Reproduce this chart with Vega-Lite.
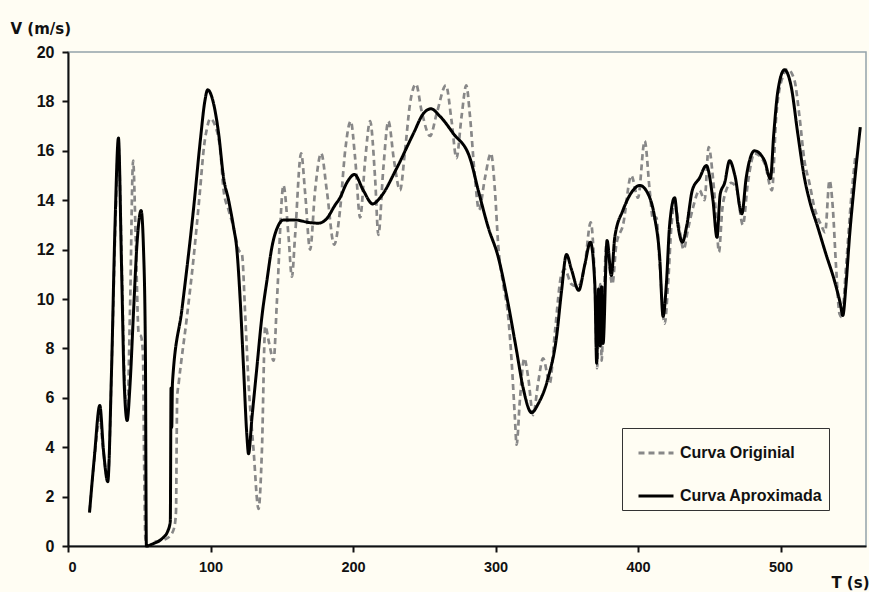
{
  "$schema": "https://vega.github.io/schema/vega-lite/v6.json",
  "width": 798,
  "height": 494,
  "autosize": {"type": "none"},
  "padding": {"left": 68, "top": 52, "right": 3, "bottom": 46},
  "background": "#FFFDF3",
  "config": {
    "view": {"fill": "#FFFDF3", "stroke": "#94A3AB", "strokeWidth": 1.5},
    "font": "Liberation Sans",
    "legend": {
      "orient": "none",
      "legendX": 554,
      "legendY": 376,
      "padding": 6,
      "rowPadding": 16,
      "symbolOffset": 9,
      "symbolSize": 1225,
      "symbolType": "stroke",
      "symbolStrokeWidth": 3,
      "labelFont": "Liberation Sans",
      "labelFontWeight": "bold",
      "labelFontSize": 16,
      "labelColor": "#111111",
      "labelOffset": 5,
      "labelLimit": 300,
      "strokeColor": "#333333",
      "fillColor": "#FFFDF3"
    }
  },
  "datasets": {
    "orig": [
      {"t":15.1,"v":1.4,"s":"Curva Originial"},{"t":18.5,"v":3.5,"s":"Curva Originial"},{"t":22.3,"v":5.2,"s":"Curva Originial"},{"t":24.5,"v":4.0,"s":"Curva Originial"},{"t":27.9,"v":2.7,"s":"Curva Originial"},{"t":31,"v":8,"s":"Curva Originial"},{"t":33.5,"v":13.5,"s":"Curva Originial"},{"t":35.4,"v":16.2,"s":"Curva Originial"},{"t":37.5,"v":12,"s":"Curva Originial"},{"t":39.5,"v":7,"s":"Curva Originial"},{"t":41.5,"v":5.3,"s":"Curva Originial"},{"t":43.5,"v":9.5,"s":"Curva Originial"},{"t":45.7,"v":15.6,"s":"Curva Originial"},{"t":47.5,"v":12.5,"s":"Curva Originial"},{"t":49.6,"v":8.6,"s":"Curva Originial"},{"t":51.2,"v":8.5,"s":"Curva Originial"},{"t":52.6,"v":7.8,"s":"Curva Originial"},{"t":53.4,"v":3.5,"s":"Curva Originial"},{"t":54.3,"v":0.3,"s":"Curva Originial"},{"t":56,"v":0,"s":"Curva Originial"},{"t":60.1,"v":0.15,"s":"Curva Originial"},{"t":67.2,"v":0.25,"s":"Curva Originial"},{"t":71.8,"v":0.42,"s":"Curva Originial"},{"t":74.6,"v":0.76,"s":"Curva Originial"},{"t":75.8,"v":1.4,"s":"Curva Originial"},{"t":76.3,"v":4.5,"s":"Curva Originial"},{"t":76.6,"v":6.0,"s":"Curva Originial"},{"t":77.7,"v":6.6,"s":"Curva Originial"},{"t":83.5,"v":9.3,"s":"Curva Originial"},{"t":88.2,"v":11.7,"s":"Curva Originial"},{"t":92.5,"v":14.3,"s":"Curva Originial"},{"t":95.5,"v":16.2,"s":"Curva Originial"},{"t":97.5,"v":16.9,"s":"Curva Originial"},{"t":99.8,"v":17.3,"s":"Curva Originial"},{"t":103.4,"v":17.0,"s":"Curva Originial"},{"t":106.9,"v":16.0,"s":"Curva Originial"},{"t":109.2,"v":14.4,"s":"Curva Originial"},{"t":112.7,"v":13.6,"s":"Curva Originial"},{"t":116.2,"v":12.9,"s":"Curva Originial"},{"t":119.7,"v":12.0,"s":"Curva Originial"},{"t":122.1,"v":11.8,"s":"Curva Originial"},{"t":124.4,"v":9.3,"s":"Curva Originial"},{"t":126.7,"v":6.6,"s":"Curva Originial"},{"t":130.2,"v":3.9,"s":"Curva Originial"},{"t":133.7,"v":1.5,"s":"Curva Originial"},{"t":136.1,"v":3.9,"s":"Curva Originial"},{"t":138.4,"v":8.9,"s":"Curva Originial"},{"t":141.2,"v":8.2,"s":"Curva Originial"},{"t":144.3,"v":7.5,"s":"Curva Originial"},{"t":146.6,"v":9.9,"s":"Curva Originial"},{"t":151.2,"v":14.6,"s":"Curva Originial"},{"t":154.8,"v":12.5,"s":"Curva Originial"},{"t":157.1,"v":10.9,"s":"Curva Originial"},{"t":159.4,"v":12.6,"s":"Curva Originial"},{"t":163.6,"v":15.9,"s":"Curva Originial"},{"t":166.4,"v":14.3,"s":"Curva Originial"},{"t":169.9,"v":12.0,"s":"Curva Originial"},{"t":173.4,"v":14.4,"s":"Curva Originial"},{"t":177.7,"v":15.9,"s":"Curva Originial"},{"t":181.6,"v":14.4,"s":"Curva Originial"},{"t":186.8,"v":12.2,"s":"Curva Originial"},{"t":190.9,"v":13.6,"s":"Curva Originial"},{"t":194.5,"v":16.0,"s":"Curva Originial"},{"t":198.4,"v":17.2,"s":"Curva Originial"},{"t":201.5,"v":15.7,"s":"Curva Originial"},{"t":205.0,"v":13.3,"s":"Curva Originial"},{"t":208.5,"v":15.6,"s":"Curva Originial"},{"t":212.0,"v":17.2,"s":"Curva Originial"},{"t":215.5,"v":14.9,"s":"Curva Originial"},{"t":217.8,"v":12.6,"s":"Curva Originial"},{"t":221.3,"v":15.3,"s":"Curva Originial"},{"t":224.8,"v":17.2,"s":"Curva Originial"},{"t":228.8,"v":15.6,"s":"Curva Originial"},{"t":233.0,"v":14.4,"s":"Curva Originial"},{"t":236.5,"v":16.0,"s":"Curva Originial"},{"t":240.0,"v":17.9,"s":"Curva Originial"},{"t":244.2,"v":18.7,"s":"Curva Originial"},{"t":248.2,"v":17.6,"s":"Curva Originial"},{"t":254.1,"v":16.6,"s":"Curva Originial"},{"t":258.7,"v":17.5,"s":"Curva Originial"},{"t":265.2,"v":18.65,"s":"Curva Originial"},{"t":269.2,"v":17.2,"s":"Curva Originial"},{"t":272.6,"v":15.7,"s":"Curva Originial"},{"t":276.2,"v":17.4,"s":"Curva Originial"},{"t":279.5,"v":18.65,"s":"Curva Originial"},{"t":282.1,"v":17.4,"s":"Curva Originial"},{"t":285.6,"v":14.9,"s":"Curva Originial"},{"t":288.4,"v":13.6,"s":"Curva Originial"},{"t":292.6,"v":14.9,"s":"Curva Originial"},{"t":296.8,"v":15.9,"s":"Curva Originial"},{"t":299.6,"v":14.4,"s":"Curva Originial"},{"t":301.9,"v":12.2,"s":"Curva Originial"},{"t":305.4,"v":10.6,"s":"Curva Originial"},{"t":308.9,"v":9.3,"s":"Curva Originial"},{"t":311.3,"v":7.5,"s":"Curva Originial"},{"t":313.6,"v":5.2,"s":"Curva Originial"},{"t":314.8,"v":4.1,"s":"Curva Originial"},{"t":317.1,"v":5.9,"s":"Curva Originial"},{"t":320.2,"v":7.6,"s":"Curva Originial"},{"t":323.0,"v":6.8,"s":"Curva Originial"},{"t":326.4,"v":5.3,"s":"Curva Originial"},{"t":329.9,"v":6.6,"s":"Curva Originial"},{"t":333.4,"v":7.6,"s":"Curva Originial"},{"t":338.1,"v":6.6,"s":"Curva Originial"},{"t":341.6,"v":8.6,"s":"Curva Originial"},{"t":346.3,"v":11.0,"s":"Curva Originial"},{"t":348.6,"v":11.2,"s":"Curva Originial"},{"t":353.3,"v":10.6,"s":"Curva Originial"},{"t":357.9,"v":10.5,"s":"Curva Originial"},{"t":362.7,"v":11.4,"s":"Curva Originial"},{"t":366.8,"v":13.1,"s":"Curva Originial"},{"t":369.7,"v":10.6,"s":"Curva Originial"},{"t":371.3,"v":7.2,"s":"Curva Originial"},{"t":372.5,"v":9.5,"s":"Curva Originial"},{"t":373.5,"v":10.6,"s":"Curva Originial"},{"t":374.5,"v":7.5,"s":"Curva Originial"},{"t":375.5,"v":9.0,"s":"Curva Originial"},{"t":377.8,"v":12.2,"s":"Curva Originial"},{"t":382.0,"v":10.6,"s":"Curva Originial"},{"t":384.8,"v":12.2,"s":"Curva Originial"},{"t":389.5,"v":13.0,"s":"Curva Originial"},{"t":395.3,"v":15.0,"s":"Curva Originial"},{"t":400.0,"v":14.1,"s":"Curva Originial"},{"t":404.7,"v":16.4,"s":"Curva Originial"},{"t":408.2,"v":14.4,"s":"Curva Originial"},{"t":410.6,"v":13.2,"s":"Curva Originial"},{"t":412.9,"v":13.3,"s":"Curva Originial"},{"t":415.2,"v":11.4,"s":"Curva Originial"},{"t":418.7,"v":9.0,"s":"Curva Originial"},{"t":421.1,"v":10.6,"s":"Curva Originial"},{"t":423.5,"v":13.0,"s":"Curva Originial"},{"t":425.7,"v":13.85,"s":"Curva Originial"},{"t":429.2,"v":12.8,"s":"Curva Originial"},{"t":432.0,"v":12.0,"s":"Curva Originial"},{"t":435.0,"v":12.8,"s":"Curva Originial"},{"t":438.6,"v":13.7,"s":"Curva Originial"},{"t":443.2,"v":14.4,"s":"Curva Originial"},{"t":446.7,"v":14.0,"s":"Curva Originial"},{"t":449.6,"v":16.15,"s":"Curva Originial"},{"t":452.6,"v":14.9,"s":"Curva Originial"},{"t":454.9,"v":13.3,"s":"Curva Originial"},{"t":456.8,"v":11.9,"s":"Curva Originial"},{"t":459.1,"v":13.6,"s":"Curva Originial"},{"t":461.9,"v":14.4,"s":"Curva Originial"},{"t":465.4,"v":14.7,"s":"Curva Originial"},{"t":469.0,"v":14.5,"s":"Curva Originial"},{"t":473.6,"v":13.0,"s":"Curva Originial"},{"t":477.1,"v":14.7,"s":"Curva Originial"},{"t":481.8,"v":15.9,"s":"Curva Originial"},{"t":488.8,"v":15.5,"s":"Curva Originial"},{"t":494.0,"v":14.4,"s":"Curva Originial"},{"t":497.0,"v":17.4,"s":"Curva Originial"},{"t":501.6,"v":19.0,"s":"Curva Originial"},{"t":505.1,"v":19.3,"s":"Curva Originial"},{"t":509.8,"v":18.85,"s":"Curva Originial"},{"t":513.3,"v":17.4,"s":"Curva Originial"},{"t":516.8,"v":15.6,"s":"Curva Originial"},{"t":520.3,"v":14.7,"s":"Curva Originial"},{"t":523.8,"v":13.7,"s":"Curva Originial"},{"t":528.5,"v":13.0,"s":"Curva Originial"},{"t":531.3,"v":12.7,"s":"Curva Originial"},{"t":534.4,"v":14.8,"s":"Curva Originial"},{"t":536.7,"v":13.7,"s":"Curva Originial"},{"t":539.0,"v":11.3,"s":"Curva Originial"},{"t":541.4,"v":9.4,"s":"Curva Originial"},{"t":543.0,"v":9.26,"s":"Curva Originial"},{"t":546.0,"v":11.3,"s":"Curva Originial"},{"t":549.5,"v":14.0,"s":"Curva Originial"},{"t":552.4,"v":15.7,"s":"Curva Originial"}
    ],
    "aprox": [
      {"t":15.1,"v":1.35,"s":"Curva Aproximada"},{"t":18.5,"v":3.6,"s":"Curva Aproximada"},{"t":22.3,"v":5.69,"s":"Curva Aproximada"},{"t":25,"v":3.8,"s":"Curva Aproximada"},{"t":27.9,"v":2.6,"s":"Curva Aproximada"},{"t":30.5,"v":7,"s":"Curva Aproximada"},{"t":33,"v":13,"s":"Curva Aproximada"},{"t":35.4,"v":16.52,"s":"Curva Aproximada"},{"t":37.5,"v":11.5,"s":"Curva Aproximada"},{"t":39.5,"v":6.5,"s":"Curva Aproximada"},{"t":41.5,"v":5.08,"s":"Curva Aproximada"},{"t":43.5,"v":6.5,"s":"Curva Aproximada"},{"t":46,"v":9.5,"s":"Curva Aproximada"},{"t":48.5,"v":12.3,"s":"Curva Aproximada"},{"t":51.3,"v":13.58,"s":"Curva Aproximada"},{"t":53.0,"v":12.0,"s":"Curva Aproximada"},{"t":54.3,"v":8.0,"s":"Curva Aproximada"},{"t":55.0,"v":0,"s":"Curva Aproximada"},{"t":60,"v":0.1,"s":"Curva Aproximada"},{"t":66,"v":0.3,"s":"Curva Aproximada"},{"t":70,"v":0.6,"s":"Curva Aproximada"},{"t":71.8,"v":1.0,"s":"Curva Aproximada"},{"t":72.3,"v":6.4,"s":"Curva Aproximada"},{"t":72.8,"v":4.8,"s":"Curva Aproximada"},{"t":73.3,"v":6.6,"s":"Curva Aproximada"},{"t":80,"v":9.6,"s":"Curva Aproximada"},{"t":88,"v":13.6,"s":"Curva Aproximada"},{"t":93,"v":16.5,"s":"Curva Aproximada"},{"t":96,"v":18.0,"s":"Curva Aproximada"},{"t":98,"v":18.47,"s":"Curva Aproximada"},{"t":102.2,"v":17.9,"s":"Curva Aproximada"},{"t":105.7,"v":16.7,"s":"Curva Aproximada"},{"t":109.2,"v":14.9,"s":"Curva Aproximada"},{"t":112.7,"v":14.0,"s":"Curva Aproximada"},{"t":116.2,"v":12.9,"s":"Curva Aproximada"},{"t":118.5,"v":12.0,"s":"Curva Aproximada"},{"t":120.9,"v":9.9,"s":"Curva Aproximada"},{"t":123.2,"v":7.2,"s":"Curva Aproximada"},{"t":125.5,"v":4.5,"s":"Curva Aproximada"},{"t":126.7,"v":3.73,"s":"Curva Aproximada"},{"t":129.1,"v":5.2,"s":"Curva Aproximada"},{"t":132.5,"v":7.2,"s":"Curva Aproximada"},{"t":136.1,"v":9.3,"s":"Curva Aproximada"},{"t":139.6,"v":10.75,"s":"Curva Aproximada"},{"t":143.1,"v":12.1,"s":"Curva Aproximada"},{"t":147.8,"v":13.0,"s":"Curva Aproximada"},{"t":151.3,"v":13.2,"s":"Curva Aproximada"},{"t":159.4,"v":13.2,"s":"Curva Aproximada"},{"t":168.8,"v":13.1,"s":"Curva Aproximada"},{"t":175.8,"v":13.07,"s":"Curva Aproximada"},{"t":181.5,"v":13.25,"s":"Curva Aproximada"},{"t":187.4,"v":13.8,"s":"Curva Aproximada"},{"t":190.9,"v":14.1,"s":"Curva Aproximada"},{"t":195.6,"v":14.7,"s":"Curva Aproximada"},{"t":201.1,"v":15.04,"s":"Curva Aproximada"},{"t":207.2,"v":14.4,"s":"Curva Aproximada"},{"t":213.9,"v":13.85,"s":"Curva Aproximada"},{"t":219.0,"v":14.1,"s":"Curva Aproximada"},{"t":230.7,"v":15.3,"s":"Curva Aproximada"},{"t":242.4,"v":16.7,"s":"Curva Aproximada"},{"t":249.3,"v":17.5,"s":"Curva Aproximada"},{"t":254.7,"v":17.7,"s":"Curva Aproximada"},{"t":261.0,"v":17.4,"s":"Curva Aproximada"},{"t":270.4,"v":16.7,"s":"Curva Aproximada"},{"t":282.1,"v":15.7,"s":"Curva Aproximada"},{"t":287.9,"v":14.4,"s":"Curva Aproximada"},{"t":294.9,"v":12.9,"s":"Curva Aproximada"},{"t":301.9,"v":11.7,"s":"Curva Aproximada"},{"t":308.9,"v":9.8,"s":"Curva Aproximada"},{"t":314.8,"v":7.9,"s":"Curva Aproximada"},{"t":319.4,"v":6.4,"s":"Curva Aproximada"},{"t":325.3,"v":5.4,"s":"Curva Aproximada"},{"t":329.9,"v":5.75,"s":"Curva Aproximada"},{"t":336.9,"v":6.8,"s":"Curva Aproximada"},{"t":342.8,"v":8.45,"s":"Curva Aproximada"},{"t":346.3,"v":10.3,"s":"Curva Aproximada"},{"t":349.8,"v":11.8,"s":"Curva Aproximada"},{"t":353.3,"v":11.2,"s":"Curva Aproximada"},{"t":358.4,"v":10.35,"s":"Curva Aproximada"},{"t":362.7,"v":11.4,"s":"Curva Aproximada"},{"t":366.6,"v":12.3,"s":"Curva Aproximada"},{"t":369.7,"v":10.6,"s":"Curva Aproximada"},{"t":371.0,"v":7.4,"s":"Curva Aproximada"},{"t":372.3,"v":10.4,"s":"Curva Aproximada"},{"t":373.5,"v":8.1,"s":"Curva Aproximada"},{"t":374.5,"v":10.5,"s":"Curva Aproximada"},{"t":375.5,"v":8.2,"s":"Curva Aproximada"},{"t":378.3,"v":12.37,"s":"Curva Aproximada"},{"t":381.3,"v":10.95,"s":"Curva Aproximada"},{"t":383.7,"v":12.5,"s":"Curva Aproximada"},{"t":389.5,"v":13.6,"s":"Curva Aproximada"},{"t":396.5,"v":14.4,"s":"Curva Aproximada"},{"t":401.2,"v":14.6,"s":"Curva Aproximada"},{"t":407.1,"v":14.25,"s":"Curva Aproximada"},{"t":411.7,"v":13.3,"s":"Curva Aproximada"},{"t":415.2,"v":11.7,"s":"Curva Aproximada"},{"t":417.6,"v":9.3,"s":"Curva Aproximada"},{"t":419.9,"v":10.6,"s":"Curva Aproximada"},{"t":422.2,"v":13.0,"s":"Curva Aproximada"},{"t":425.7,"v":14.1,"s":"Curva Aproximada"},{"t":428.0,"v":13.0,"s":"Curva Aproximada"},{"t":431.1,"v":12.3,"s":"Curva Aproximada"},{"t":434.3,"v":13.0,"s":"Curva Aproximada"},{"t":438.1,"v":14.4,"s":"Curva Aproximada"},{"t":443.2,"v":14.9,"s":"Curva Aproximada"},{"t":447.9,"v":15.4,"s":"Curva Aproximada"},{"t":452.6,"v":14.0,"s":"Curva Aproximada"},{"t":455.4,"v":12.5,"s":"Curva Aproximada"},{"t":457.7,"v":14.25,"s":"Curva Aproximada"},{"t":460.8,"v":14.7,"s":"Curva Aproximada"},{"t":464.3,"v":15.6,"s":"Curva Aproximada"},{"t":468.0,"v":15.0,"s":"Curva Aproximada"},{"t":472.9,"v":13.45,"s":"Curva Aproximada"},{"t":475.9,"v":14.9,"s":"Curva Aproximada"},{"t":481.8,"v":16.0,"s":"Curva Aproximada"},{"t":488.8,"v":15.6,"s":"Curva Aproximada"},{"t":492.9,"v":14.87,"s":"Curva Aproximada"},{"t":495.3,"v":16.7,"s":"Curva Aproximada"},{"t":498.1,"v":18.4,"s":"Curva Aproximada"},{"t":502.8,"v":19.28,"s":"Curva Aproximada"},{"t":507.5,"v":18.6,"s":"Curva Aproximada"},{"t":512.1,"v":16.7,"s":"Curva Aproximada"},{"t":516.8,"v":14.9,"s":"Curva Aproximada"},{"t":520.3,"v":14.0,"s":"Curva Aproximada"},{"t":526.2,"v":12.9,"s":"Curva Aproximada"},{"t":532.0,"v":11.8,"s":"Curva Aproximada"},{"t":537.8,"v":10.75,"s":"Curva Aproximada"},{"t":542.0,"v":9.8,"s":"Curva Aproximada"},{"t":543.7,"v":9.33,"s":"Curva Aproximada"},{"t":546.0,"v":10.6,"s":"Curva Aproximada"},{"t":548.4,"v":12.5,"s":"Curva Aproximada"},{"t":551.9,"v":14.7,"s":"Curva Aproximada"},{"t":556.0,"v":16.96,"s":"Curva Aproximada"}
    ]
  },
  "encoding": {
    "x": {
      "field": "t",
      "type": "quantitative",
      "scale": {"domain": [0, 560], "nice": false, "zero": false},
      "axis": {
        "values": [0, 100, 200, 300, 400, 500],
        "grid": false,
        "domainColor": "#111111",
        "domainWidth": 2,
        "tickColor": "#111111",
        "tickWidth": 2,
        "tickSize": 6,
        "labelFont": "Liberation Sans",
        "labelFontWeight": "bold",
        "labelFontSize": 14.5,
        "labelColor": "#111111",
        "labelPadding": 8,
        "title": "T (s)",
        "titleFont": "DejaVu Sans",
        "titleFontWeight": "bold",
        "titleFontSize": 15,
        "titleColor": "#111111",
        "titleX": 801,
        "titleY": 41,
        "titleAlign": "right",
        "titleBaseline": "alphabetic"
      }
    },
    "y": {
      "field": "v",
      "type": "quantitative",
      "scale": {"domain": [0, 20], "nice": false},
      "axis": {
        "values": [0, 2, 4, 6, 8, 10, 12, 14, 16, 18, 20],
        "grid": false,
        "domainColor": "#111111",
        "domainWidth": 2,
        "tickColor": "#111111",
        "tickWidth": 2,
        "tickSize": 6,
        "labelFont": "Liberation Sans",
        "labelFontWeight": "bold",
        "labelFontSize": 16,
        "labelColor": "#111111",
        "labelPadding": 8,
        "title": "V (m/s)",
        "titleFont": "DejaVu Sans",
        "titleFontWeight": "bold",
        "titleFontSize": 15,
        "titleColor": "#111111",
        "titleAngle": 0,
        "titleX": -58,
        "titleY": -19,
        "titleAlign": "left",
        "titleBaseline": "alphabetic"
      }
    },
    "color": {
      "field": "s",
      "type": "nominal",
      "title": null,
      "scale": {"domain": ["Curva Originial", "Curva Aproximada"], "range": ["#888888", "#000000"]}
    },
    "strokeDash": {
      "field": "s",
      "type": "nominal",
      "title": null,
      "scale": {"domain": ["Curva Originial", "Curva Aproximada"], "range": [[6, 4], [1, 0]]}
    }
  },
  "layer": [
    {
      "data": {"name": "orig"},
      "mark": {"type": "line", "interpolate": "monotone", "strokeWidth": 2.7}
    },
    {
      "data": {"name": "aprox"},
      "mark": {"type": "line", "interpolate": "monotone", "strokeWidth": 3}
    }
  ]
}
